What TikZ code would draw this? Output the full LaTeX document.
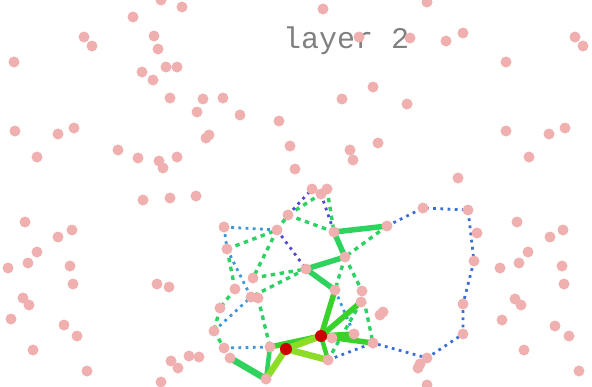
\documentclass[tikz,border=0pt]{standalone}
\usepackage{fontspec}
\newfontfamily\labelmono{Liberation Mono}
\definecolor{dotpink}{RGB}{240,176,176}
\definecolor{hubred}{RGB}{204,0,0}
\definecolor{thickgreen}{RGB}{46,210,92}
\definecolor{brightgreen}{RGB}{56,210,42}
\definecolor{yellowgreen}{RGB}{140,220,40}
\definecolor{dashgreen}{RGB}{46,210,100}
\definecolor{lightblue}{RGB}{60,150,220}
\definecolor{royalblue}{RGB}{60,110,212}
\definecolor{violetblue}{RGB}{84,72,212}
\definecolor{labelgray}{RGB}{128,128,128}
\begin{document}
\begin{tikzpicture}[x=1pt,y=-1pt,
  thickg/.style={draw=thickgreen,line width=5.5pt},
  brightg/.style={draw=brightgreen,line width=5.5pt},
  yellowg/.style={draw=yellowgreen,line width=6.5pt},
  gdash/.style={draw=dashgreen,line width=3.4pt,dash pattern=on 4.5pt off 4.5pt},
  bdot/.style={draw=lightblue,line width=2.8pt,dash pattern=on 2.8pt off 4.4pt},
  rdot/.style={draw=royalblue,line width=2.8pt,dash pattern=on 2.8pt off 4.4pt},
  vdot/.style={draw=violetblue,line width=2.8pt,dash pattern=on 2.8pt off 4.4pt},
  pinkdot/.style={fill=dotpink},
  reddot/.style={fill=hubred}]
\useasboundingbox (0,0) rectangle (592,386);
% title (drawn below the dots)
\node[anchor=base west,inner sep=0pt,text=labelgray,font=\labelmono\fontsize{30}{30}\selectfont] (title) at (283,48) {layer 2};
% central graph nodes
\coordinate (A) at (288,215);
\coordinate (B) at (312,189);
\coordinate (C) at (321,194);
\coordinate (D) at (327,189);
\coordinate (E) at (224,227);
\coordinate (F) at (277,230);
\coordinate (G) at (334,232);
\coordinate (H) at (387,226);
\coordinate (I) at (227,249);
\coordinate (J) at (345,257);
\coordinate (K) at (306,269);
\coordinate (L) at (253,278);
\coordinate (M) at (235,289);
\coordinate (N) at (251,297);
\coordinate (NN) at (258,298);
\coordinate (O) at (335,290);
\coordinate (P) at (362,291);
\coordinate (Q) at (361,302);
\coordinate (R1) at (383,312);
\coordinate (R2) at (380,315);
\coordinate (S) at (220,308);
\coordinate (T) at (214,331);
\coordinate (U) at (224,348);
\coordinate (UU) at (230,358);
\coordinate (V) at (270,347);
\coordinate (W) at (332,338);
\coordinate (X) at (354,334);
\coordinate (Y) at (373,343);
\coordinate (Z) at (328,360);
\coordinate (BB) at (266,379);
\coordinate (L1) at (423,208);
\coordinate (L2) at (468,210);
\coordinate (L3) at (477,233);
\coordinate (L4) at (474,261);
\coordinate (L5) at (463,304);
\coordinate (L6) at (463,334);
\coordinate (L7) at (427,358);
\coordinate (L8) at (418,368);
\coordinate (L9) at (420,364);
\coordinate (L10) at (427,385);
\coordinate (H1) at (286,349);
\coordinate (H2) at (321,336);
% dashed green
\draw[gdash] (I) -- (F);
\draw[gdash] (F) -- (A);
\draw[gdash] (A) -- (C);
\draw[gdash] (A) -- (G);
\draw[gdash] (D) -- (G);
\draw[gdash] (F) -- (L);
\draw[gdash] (L) -- (K);
\draw[gdash] (K) -- (N);
\draw[gdash] (I) -- (M);
\draw[gdash] (M) -- (S);
\draw[gdash] (S) -- (T);
\draw[gdash] (T) -- (U);
\draw[gdash] (NN) -- (V);
\draw[gdash] (J) -- (O);
\draw[gdash] (J) -- (P);
\draw[gdash] (H) -- (J);
\draw[gdash] (P) -- (Y);
\draw[gdash] (Q) -- (Z);
% dotted blue / violet
\draw[bdot] (E) -- (F);
\draw[bdot] (E) -- (I);
\draw[bdot] (I) -- (N);
\draw[bdot] (T) -- (N);
\draw[bdot] (U) -- (V);
\draw[bdot] (O) -- (X);
\draw[bdot] (W) -- (Y);
\draw[vdot] (F) -- (K);
\draw[vdot] (A) -- (B);
\draw[vdot] (C) -- (G);
\draw[rdot] (H) -- (L1) -- (L2) -- (L4) -- (L5) -- (L6) -- (L7) -- (Y);
\draw[rdot] (Z) -- (Y);
% solid greens
\draw[thickg] (G) -- (H);
\draw[thickg] (G) -- (J);
\draw[thickg] (J) -- (K);
\draw[thickg] (K) -- (O);
\draw[thickg,line width=6.5pt] (UU) -- (BB);
\draw[thickg,line width=4.5pt] (V) -- (BB);
\draw[brightg] (H2) -- (O);
\draw[brightg] (H2) -- (Q);
\draw[brightg] (H2) -- (V);
\draw[brightg,line width=4.5pt] (H2) -- (Z);
\draw[brightg] (H2) -- (X);
\draw[brightg] (H2) -- (Y);
\draw[yellowg] (H1) -- (H2);
\draw[yellowg] (H1) -- (Z);
\draw[yellowg] (H1) -- (BB);
% pink nodes of the graph
\foreach \n in {A,B,C,D,E,F,G,H,I,J,K,L,M,N,NN,O,P,Q,R1,R2,S,T,U,UU,V,W,X,Y,Z,BB,L1,L2,L3,L4,L5,L6,L7,L8,L9,L10}
  \fill[pinkdot] (\n) circle[radius=5.5pt];
% scattered pink nodes
\foreach \x/\y [count=\i] in {161/0,182/7,133/17,84/37,92/46,154/36,158/49,14/62,166/67,177/67,
  142/72,153/80,170/98,203/99,197/112,15/131,58/134,74/128,118/150,37/157,138/158,159/161,
  163/168,177/157,143/200,170/198,196/196,323/9,359/37,223/98,240/115,279/121,342/99,373/87,
  206/138,209/135,290/146,350/150,353/160,378/143,295/169,427/2,410/38,446/41,463/33,575/37,
  583/46,506/62,407/104,506/131,549/134,565/128,529/157,458/178,25/222,58/237,72/230,37/252,
  28/263,8/268,70/266,73/284,23/298,29/305,11/319,64/325,77/336,33/350,87/371,157/284,169/287,
  171/361,178/368,189/356,199/357,161/382,517/222,550/237,563/230,528/252,519/263,500/268,
  562/266,564/284,515/299,521/305,502/320,555/326,569/336,524/350,579/371}
  \node[pinkdot,circle,inner sep=0pt,minimum size=11pt] (p\i) at (\x,\y) {};
\fill[reddot] (H1) circle[radius=6pt];
\fill[reddot] (H2) circle[radius=6pt];
\end{tikzpicture}
\end{document}
